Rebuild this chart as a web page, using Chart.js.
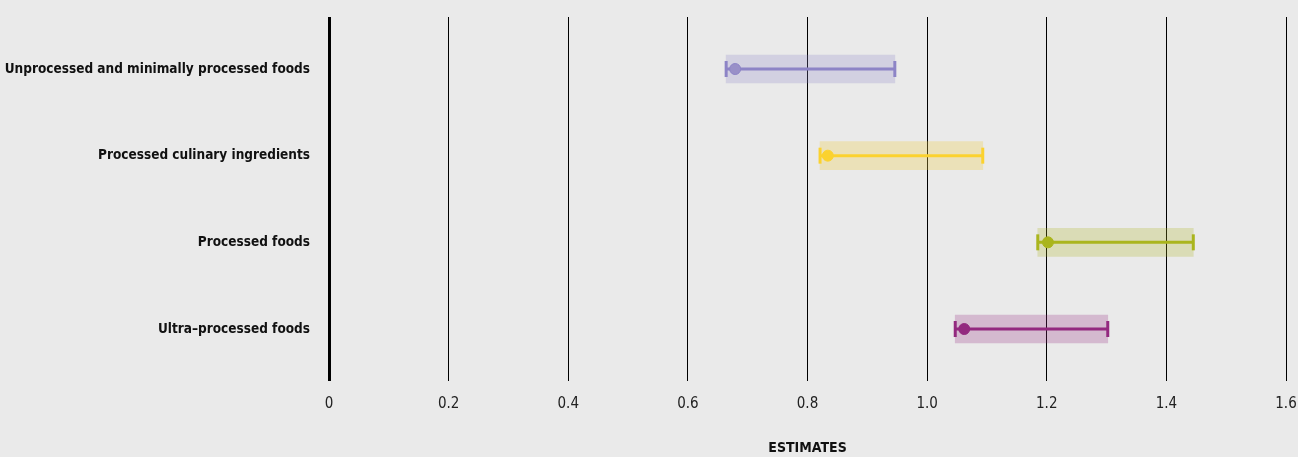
<!DOCTYPE html>
<html>
<head>
<meta charset="utf-8">
<script src="https://cdn.jsdelivr.net/npm/chart.js@4"></script>
<style>
  html, body { margin: 0; padding: 0; background: #eaeaea; }
  #wrap { width: 1298px; height: 457px; }
</style>
</head>
<body>
<div id="wrap"><canvas id="myChart" width="1298" height="457"></canvas></div>
<script>
var categories = ["Unprocessed and minimally processed foods", "Processed culinary ingredients", "Processed foods", "Ultra\u2013processed foods"];
var estimates = [0.679, 0.834, 1.202, 1.062];
var lower = [0.664, 0.821, 1.185, 1.047];
var upper = [0.946, 1.093, 1.445, 1.302];
var xTicks = [0, 0.2, 0.4, 0.6, 0.8, 1.0, 1.2, 1.4, 1.6];
var xTickLabels = ["0", "0.2", "0.4", "0.6", "0.8", "1.0", "1.2", "1.4", "1.6"];

var lineColors = ["#8d84c6", "#fbd22f", "#aab51d", "#93297f"];
var boxColors = ["rgba(141,132,198,0.25)", "rgba(240,205,70,0.3)", "rgba(170,181,29,0.25)", "rgba(147,41,127,0.25)"];
var dotColors = ["#9990c8", "#fbd22f", "#aab51d", "#93297f"];

var fontFam = "'DejaVu Sans Condensed', 'Roboto', sans-serif";

var datasets = [];

// boxes behind each interval
datasets.push({
  type: "bar",
  indexAxis: "y",
  data: categories.map(function(c, i){ return {x: [lower[i], upper[i]], y: i}; }),
  backgroundColor: boxColors,
  borderWidth: 0,
  barThickness: 28,
  grouped: false,
  order: 3
});

// interval lines with caps
categories.forEach(function(c, i){
  datasets.push({
    type: "line",
    data: [{x: lower[i], y: i}, {x: upper[i], y: i}],
    borderColor: lineColors[i],
    borderWidth: 3,
    pointStyle: "line",
    rotation: 90,
    pointRadius: 8,
    pointBorderWidth: 3,
    pointBorderColor: lineColors[i],
    pointHoverRadius: 8,
    order: 2
  });
});

// point estimates
datasets.push({
  type: "scatter",
  data: categories.map(function(c, i){ return {x: estimates[i], y: i}; }),
  backgroundColor: dotColors,
  borderColor: lineColors,
  borderWidth: 1,
  pointRadius: 5.5,
  order: 1
});

var ctx = document.getElementById("myChart").getContext("2d");
var chart = new Chart(ctx, {
  data: { datasets: datasets },
  options: {
    responsive: false,
    animation: false,
    layout: { padding: { top: 17, right: 12, left: 0, bottom: 0 } },
    plugins: { legend: { display: false }, tooltip: { enabled: false } },
    scales: {
      x: {
        type: "linear",
        min: 0,
        max: 1.6,
        offset: false,
        z: 1,
        afterBuildTicks: function(scale){
          scale.ticks = xTicks.map(function(v){ return {value: v}; });
        },
        afterFit: function(scale){
          scale.height = 76;
          scale.paddingLeft = 0;
          scale.paddingRight = 0;
        },
        border: { display: false },
        grid: {
          offset: false,
          color: "#000",
          lineWidth: function(c){ return c.tick && c.tick.value === 0 ? 3 : 1; },
          drawTicks: false
        },
        ticks: {
          padding: 14,
          color: "#222",
          font: { family: fontFam, size: 15 },
          callback: function(v, idx){ return xTickLabels[idx]; }
        },
        title: {
          display: true,
          text: "ESTIMATES",
          color: "#111",
          font: { family: fontFam, size: 14, weight: "bold" },
          padding: { top: 22, bottom: 0 }
        }
      },
      y: {
        type: "linear",
        reverse: true,
        min: -0.6,
        max: 3.6,
        offset: false,
        afterBuildTicks: function(scale){
          scale.ticks = categories.map(function(c, i){ return {value: i}; });
        },
        afterFit: function(scale){
          scale.width = 329;
          scale.paddingTop = 0;
          scale.paddingBottom = 0;
        },
        border: { display: false },
        grid: { display: false, drawTicks: false },
        ticks: {
          padding: 19,
          color: "#111",
          font: { family: fontFam, size: 13.5, weight: "bold" },
          callback: function(v){ return categories[v]; }
        }
      }
    }
  }
});
</script>
</body>
</html>
